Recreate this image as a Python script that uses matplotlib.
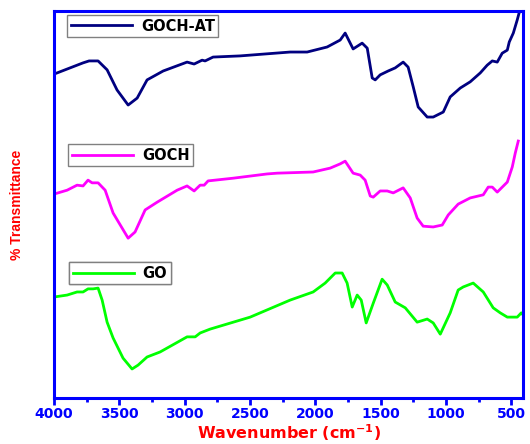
import numpy as np
import matplotlib
matplotlib.use("Agg")
import matplotlib.pyplot as plt
from matplotlib.ticker import MultipleLocator

# FTIR spectra (wavenumber in cm-1, transmittance in arbitrary %)
wn_at = [4000, 3778, 3732, 3663, 3594, 3518, 3433, 3364, 3288, 3165, 2982, 2928, 2867,
         2844, 2783, 2576, 2193, 2063, 1910, 1810, 1772, 1711, 1642, 1603, 1565, 1542,
         1504, 1443, 1389, 1328, 1290, 1251, 1213, 1144, 1098, 1021, 968, 891, 815, 738,
         685, 646, 608, 570, 531, 516, 485, 455, 439]
t_at = [83.7, 86.6, 87.1, 87.1, 84.8, 79.6, 75.7, 77.5, 82.2, 84.5, 86.8, 86.3, 87.3,
        87.1, 88.1, 88.4, 89.4, 89.4, 90.7, 92.5, 94.3, 90.2, 91.7, 90.4, 82.7, 82.2,
        83.5, 84.5, 85.3, 86.8, 85.5, 80.4, 75.2, 72.6, 72.6, 73.9, 77.8, 80.1, 81.7, 84.0,
        86.0, 87.1, 86.8, 89.1, 89.9, 92.0, 94.3, 97.7, 99.7]

wn_goch = [4000, 3900, 3824, 3778, 3740, 3709, 3663, 3609, 3548, 3479, 3433, 3380, 3303,
           3211, 3058, 2982, 2928, 2882, 2851, 2821, 2629, 2369, 2292, 2017, 1887, 1810,
           1772, 1711, 1657, 1619, 1580, 1557, 1504, 1450, 1404, 1328, 1274, 1221, 1175,
           1098, 1029, 983, 907, 815, 715, 677, 646, 608, 531, 493, 470, 447]
t_goch = [52.7, 53.7, 55.0, 54.8, 56.3, 55.6, 55.6, 53.7, 47.8, 43.9, 41.3, 42.9, 48.6,
          50.6, 53.7, 54.8, 53.5, 55.0, 55.0, 56.1, 56.8, 57.9, 58.1, 58.4, 59.4, 60.5,
          61.2, 58.1, 57.6, 56.3, 52.2, 51.9, 53.5, 53.5, 53.0, 54.3, 51.7, 46.5, 44.4,
          44.2, 44.7, 47.3, 50.1, 51.7, 52.5, 54.5, 54.5, 53.2, 55.8, 59.7, 63.3, 66.4]

wn_go = [4000, 3900, 3824, 3778, 3740, 3701, 3663, 3632, 3594, 3548, 3472, 3403, 3357,
         3288, 3188, 2982, 2920, 2882, 2806, 2499, 2193, 2017, 1925, 1848, 1795, 1757,
         1718, 1680, 1649, 1611, 1557, 1489, 1450, 1389, 1312, 1221, 1144, 1098, 1044,
         968, 907, 868, 792, 715, 639, 585, 531, 455, 424, 409]
t_go = [26.1, 26.6, 27.4, 27.4, 28.2, 28.2, 28.4, 25.3, 19.6, 15.5, 10.3, 7.5, 8.5,
        10.6, 11.9, 15.8, 15.8, 16.8, 17.8, 20.9, 25.3, 27.4, 29.7, 32.3, 32.3, 29.7,
        23.5, 26.6, 25.3, 19.4, 24.5, 30.7, 29.2, 24.8, 23.3, 19.6, 20.4, 19.4, 16.5,
        22.0, 27.9, 28.7, 29.7, 27.4, 23.3, 22.0, 20.9, 20.9, 22.0, 21.4]

labels = ["GOCH-AT", "GOCH", "GO"]
colors = ["#000080", "#ff00ff", "#00ff00"]
xticks = [4000, 3500, 3000, 2500, 2000, 1500, 1000, 500]

fig = plt.figure(figsize=(5.3, 4.44), dpi=100)
ax = fig.add_axes([0.102, 0.1036, 0.885, 0.8716])

series = [(wn_at, t_at), (wn_goch, t_goch), (wn_go, t_go)]
lines = []
for (x, y), c, lab in zip(series, colors, labels):
    ln, = ax.plot(x, y, color=c, lw=2.0, label=lab, solid_joinstyle="round")
    lines.append(ln)

ax.set_xlim(4000, 410)
ax.set_ylim(0, 100)
ax.set_xticks(xticks)
ax.xaxis.set_minor_locator(MultipleLocator(250))
ax.set_yticks([])

for s in ax.spines.values():
    s.set_color("#0000ff")
    s.set_linewidth(2.2)
ax.tick_params(axis="x", which="major", direction="out", length=5, width=2,
               color="#0000ff", labelcolor="#0000ff", labelsize=10, pad=1.5)
ax.tick_params(axis="x", which="minor", direction="out", length=3, width=2,
               color="#0000ff")
for lbl in ax.get_xticklabels():
    lbl.set_fontweight("bold")

ax.set_xlabel("Wavenumber (cm$^{\\mathbf{-1}}$)", color="red", fontsize=11.5,
              fontweight="bold", labelpad=1)
ax.set_ylabel("% Transmittance", color="red", fontsize=10, fontweight="bold",
              family="Liberation Sans", labelpad=22)

# one framed legend per curve
anchors = [(0.028, 0.990), (0.030, 0.656), (0.032, 0.351)]
for ln, anc in zip(lines, anchors):
    leg = ax.legend(handles=[ln], loc="upper left", bbox_to_anchor=anc,
                    borderaxespad=0, fancybox=False, framealpha=1, edgecolor="#808080",
                    handlelength=4.2, handletextpad=0.6, borderpad=0.25,
                    prop={"weight": "bold", "size": 10.5})
    leg.get_frame().set_linewidth(1.0)
    ax.add_artist(leg)

fig.savefig("out.png", dpi=100)
